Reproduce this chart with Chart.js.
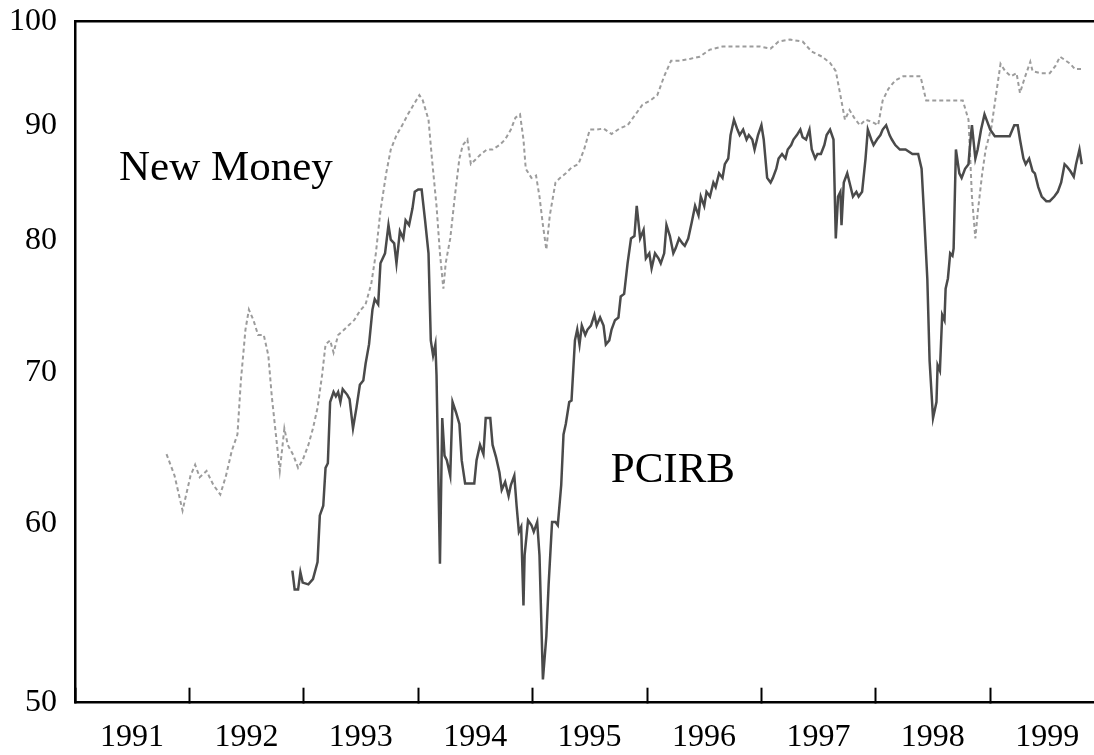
<!DOCTYPE html>
<html>
<head>
<meta charset="utf-8">
<script src="https://cdn.jsdelivr.net/npm/chart.js@4.4.1/dist/chart.umd.min.js"></script>
<style>
  html, body { margin: 0; padding: 0; background: #fff; }
  #wrap { width: 1094px; height: 755px; position: relative; }
</style>
</head>
<body>
<div id="wrap"><canvas id="chart"></canvas></div>
<script>
// Weekly-ish readings, x in decimal years
const pcYears = [1992.90,1992.92,1992.95,1992.97,1992.99,1993.04,1993.08,1993.12,1993.14,1993.17,1993.19,1993.21,1993.23,1993.26,1993.28,1993.30,1993.32,1993.34,1993.38,1993.40,1993.43,1993.46,1993.49,1993.52,1993.54,1993.57,1993.60,1993.62,1993.65,1993.67,1993.71,1993.74,1993.76,1993.79,1993.81,1993.84,1993.87,1993.89,1993.92,1993.95,1993.97,1994.00,1994.03,1994.06,1994.09,1994.11,1994.13,1994.15,1994.16,1994.19,1994.21,1994.23,1994.25,1994.28,1994.30,1994.33,1994.36,1994.38,1994.41,1994.45,1994.49,1994.51,1994.54,1994.57,1994.59,1994.63,1994.65,1994.68,1994.71,1994.73,1994.76,1994.79,1994.81,1994.84,1994.86,1994.88,1994.90,1994.92,1994.93,1994.96,1994.99,1995.01,1995.04,1995.06,1995.09,1995.12,1995.14,1995.17,1995.20,1995.22,1995.25,1995.27,1995.29,1995.32,1995.34,1995.37,1995.39,1995.41,1995.43,1995.46,1995.48,1995.51,1995.54,1995.56,1995.59,1995.62,1995.64,1995.67,1995.69,1995.72,1995.75,1995.77,1995.80,1995.83,1995.86,1995.89,1995.91,1995.94,1995.97,1995.99,1996.02,1996.04,1996.07,1996.10,1996.12,1996.15,1996.17,1996.20,1996.23,1996.25,1996.28,1996.31,1996.33,1996.36,1996.39,1996.42,1996.45,1996.47,1996.50,1996.52,1996.55,1996.58,1996.60,1996.63,1996.66,1996.68,1996.71,1996.73,1996.76,1996.79,1996.81,1996.84,1996.87,1996.89,1996.92,1996.94,1996.97,1997.00,1997.02,1997.05,1997.08,1997.10,1997.13,1997.15,1997.18,1997.21,1997.23,1997.26,1997.28,1997.31,1997.34,1997.36,1997.39,1997.42,1997.44,1997.47,1997.49,1997.52,1997.55,1997.57,1997.60,1997.63,1997.65,1997.67,1997.69,1997.70,1997.72,1997.75,1997.77,1997.80,1997.83,1997.85,1997.88,1997.91,1997.93,1997.96,1997.98,1998.01,1998.04,1998.06,1998.09,1998.12,1998.14,1998.17,1998.21,1998.26,1998.32,1998.37,1998.40,1998.42,1998.45,1998.47,1998.50,1998.53,1998.54,1998.56,1998.58,1998.60,1998.61,1998.63,1998.65,1998.67,1998.68,1998.70,1998.73,1998.75,1998.78,1998.81,1998.82,1998.84,1998.87,1998.89,1998.92,1998.95,1999.00,1999.04,1999.09,1999.13,1999.17,1999.21,1999.24,1999.26,1999.29,1999.31,1999.34,1999.37,1999.39,1999.42,1999.45,1999.49,1999.52,1999.56,1999.59,1999.62,1999.65,1999.67,1999.70,1999.73,1999.75,1999.78,1999.80];
const pcValues = [57.2,56.1,56.1,57.1,56.5,56.4,56.7,57.7,60.5,61.1,63.5,63.8,67.9,68.6,68.3,68.6,67.9,68.8,68.4,68.1,66.1,67.5,69.1,69.4,70.6,72.0,74.6,75.4,75.0,78.2,79.0,81.3,80.1,79.8,78.2,80.8,80.2,81.7,81.3,82.7,84.1,84.3,84.3,81.7,79.0,72.3,71.2,72.0,69.8,57.6,66.8,64.3,64.0,63.0,67.9,67.2,66.4,64.0,62.5,62.5,62.5,64.0,65.0,64.4,66.8,66.8,65.0,64.2,63.2,62.1,62.6,61.7,62.4,63.0,61.1,59.5,59.8,55.2,58.1,60.2,59.9,59.5,60.1,58.1,51.2,53.5,56.4,60.1,60.1,59.9,62.4,65.7,66.4,67.9,68.0,72.3,73.1,72.0,73.4,72.7,73.1,73.4,74.2,73.4,74.0,73.4,72.0,72.3,73.1,73.8,74.0,75.6,75.8,78.2,80.2,80.4,82.9,80.2,80.9,78.6,79.0,77.8,79.0,78.6,78.2,79.0,81.3,80.4,79.0,79.4,80.2,79.8,79.6,80.2,81.5,82.9,82.1,83.7,82.9,84.1,83.7,84.9,84.5,85.7,85.3,86.5,87.0,89.1,90.5,89.6,89.1,89.6,88.7,89.1,88.7,87.8,89.1,90.0,88.7,85.3,84.9,85.3,86.1,87.0,87.4,87.0,87.8,88.2,88.7,89.1,89.6,88.9,88.7,89.6,87.8,87.0,87.4,87.4,88.2,89.1,89.6,88.7,80.2,83.7,84.1,81.3,84.9,85.7,84.9,83.7,84.1,83.7,84.1,87.0,89.6,88.7,88.2,88.7,89.1,89.6,90.0,89.1,88.7,88.2,87.8,87.8,87.4,87.4,86.1,82.5,77.0,70.8,66.8,67.9,70.5,70.1,74.2,73.8,76.2,77.0,79.0,78.8,79.4,87.8,85.7,85.3,86.1,86.5,87.8,90.0,87.0,87.8,89.6,91.0,89.6,89.0,89.0,89.0,89.0,90.0,90.0,88.7,87.0,86.5,87.0,85.9,85.7,84.5,83.7,83.3,83.3,83.7,84.1,84.9,86.5,86.3,85.9,85.4,86.5,87.8,86.5];

const nmYears = [1991.80,1991.87,1991.94,1992.01,1992.05,1992.09,1992.15,1992.21,1992.27,1992.32,1992.37,1992.42,1992.45,1992.49,1992.52,1992.56,1992.60,1992.65,1992.69,1992.72,1992.76,1992.79,1992.83,1992.86,1992.91,1992.95,1992.99,1993.04,1993.08,1993.12,1993.16,1993.19,1993.23,1993.26,1993.30,1993.34,1993.39,1993.44,1993.49,1993.54,1993.59,1993.63,1993.67,1993.72,1993.76,1993.81,1993.86,1993.91,1993.96,1994.01,1994.04,1994.09,1994.12,1994.16,1994.19,1994.22,1994.24,1994.28,1994.32,1994.36,1994.39,1994.43,1994.46,1994.51,1994.55,1994.60,1994.65,1994.71,1994.76,1994.81,1994.85,1994.89,1994.92,1994.94,1994.99,1995.03,1995.06,1995.09,1995.12,1995.15,1995.20,1995.24,1995.29,1995.34,1995.40,1995.45,1995.50,1995.56,1995.62,1995.69,1995.76,1995.83,1995.90,1995.96,1996.03,1996.09,1996.15,1996.21,1996.29,1996.38,1996.46,1996.55,1996.66,1996.77,1996.88,1996.99,1997.08,1997.15,1997.25,1997.36,1997.44,1997.53,1997.60,1997.65,1997.69,1997.73,1997.77,1997.81,1997.86,1997.91,1997.97,1998.02,1998.06,1998.11,1998.17,1998.24,1998.32,1998.39,1998.44,1998.52,1998.60,1998.69,1998.76,1998.81,1998.84,1998.87,1998.89,1998.93,1998.96,1999.01,1999.05,1999.09,1999.13,1999.18,1999.23,1999.26,1999.30,1999.35,1999.37,1999.44,1999.52,1999.57,1999.61,1999.65,1999.70,1999.74,1999.80];
const nmValues = [64.4,63.0,60.8,63.0,63.7,62.9,63.3,62.4,61.8,63.0,64.6,65.7,69.4,73.1,74.6,73.8,72.7,72.7,71.2,68.3,65.4,63.3,66.1,65.0,64.3,63.5,64.0,65.0,66.1,67.5,69.8,72.0,72.3,71.4,72.7,73.0,73.4,73.8,74.5,75.0,76.6,79.0,82.5,85.7,87.8,89.1,90.0,91.0,91.9,92.8,92.3,90.5,87.0,82.9,79.0,76.2,78.2,80.2,83.7,87.0,88.2,88.7,86.5,87.0,87.4,87.8,87.8,88.2,88.7,89.6,90.7,91.0,88.7,86.1,85.3,85.5,83.7,81.3,79.3,82.1,84.9,85.3,85.7,86.2,86.5,87.8,89.6,89.6,89.7,89.2,89.7,90.0,91.0,91.9,92.3,92.8,94.6,96.1,96.1,96.3,96.5,97.2,97.5,97.5,97.5,97.5,97.3,98.0,98.2,98.0,97.0,96.5,95.9,95.1,92.8,90.5,91.4,90.7,90.0,90.5,90.3,90.0,92.3,93.4,94.2,94.6,94.6,94.6,92.3,92.3,92.3,92.3,92.3,90.5,83.7,80.2,82.3,85.7,87.8,89.8,92.8,95.8,95.1,94.6,94.9,93.0,94.4,96.0,95.1,94.9,94.9,95.6,96.5,96.2,95.8,95.3,95.3];

const yTicks = [50, 60, 70, 80, 90, 100];
const yearTicks = [1991, 1992, 1993, 1994, 1995, 1996, 1997, 1998, 1999];
const xMin = 1991;
const xMax = 1999.907;

// series names and where their captions sit (year, value)
const seriesNames = ['PCIRB', 'New Money'];
const captionAt = [[1995.683, 62.6], [1991.385, 85.1]];

const serif = '"Liberation Serif", "Times New Roman", serif';

const toPoints = (xs, ys) => xs.map((x, i) => ({ x: x, y: ys[i] }));

// keep the axes from asking for extra room around the plot
function noPad(s) {
    s.paddingTop = 0;
    s.paddingBottom = 0;
    s.paddingLeft = 0;
    s.paddingRight = 0;
}

// captions written next to the lines
const captionPlugin = {
    id: 'captions',
    afterDatasetsDraw(chart) {
        const { ctx, scales } = chart;
        ctx.save();
        ctx.font = '43px ' + serif;
        ctx.fillStyle = '#000';
        ctx.textBaseline = 'alphabetic';
        ctx.textAlign = 'left';
        seriesNames.forEach((name, i) => {
            const px = scales.x.getPixelForValue(captionAt[i][0]);
            const py = scales.y.getPixelForValue(captionAt[i][1]);
            ctx.fillText(name, px, py);
        });
        ctx.restore();
    }
};

const ctx = document.getElementById('chart');
new Chart(ctx, {
    type: 'line',
    data: {
        datasets: [
            {
                label: seriesNames[0],
                data: toPoints(pcYears, pcValues),
                borderColor: '#4a4a4a',
                borderWidth: 2.5,
                pointRadius: 0,
                tension: 0
            },
            {
                label: seriesNames[1],
                data: toPoints(nmYears, nmValues),
                borderColor: '#9c9c9c',
                borderWidth: 2,
                borderDash: [4, 3],
                pointRadius: 0,
                tension: 0
            }
        ]
    },
    options: {
        responsive: true,
        maintainAspectRatio: false,
        animation: false,
        layout: { padding: { top: 21.7, right: 0, left: 0, bottom: 0 } },
        plugins: {
            legend: { display: false },
            tooltip: { enabled: false }
        },
        scales: {
            x: {
                type: 'linear',
                min: xMin,
                max: xMax,
                afterBuildTicks: s => { s.ticks = yearTicks.map(v => ({ value: v })); },
                afterFit: s => { s.height = 52.3; noPad(s); },
                grid: {
                    display: true,
                    drawOnChartArea: false,
                    drawTicks: true,
                    tickLength: -15,
                    tickWidth: 2,
                    color: '#000'
                },
                border: { display: true, color: '#000', width: 2.5 },
                ticks: {
                    color: '#000',
                    font: { family: serif, size: 32 },
                    padding: 31,
                    labelOffset: 57,
                    maxRotation: 0,
                    autoSkip: false,
                    callback: v => String(v)
                }
            },
            xTop: {
                type: 'linear',
                position: 'top',
                min: xMin,
                max: xMax,
                afterFit: s => { s.height = 0; noPad(s); },
                grid: { display: false, drawTicks: false },
                border: { display: true, color: '#000', width: 2.5 },
                ticks: { display: false }
            },
            y: {
                type: 'logarithmic',
                min: 50,
                max: 100,
                afterBuildTicks: s => { s.ticks = yTicks.map(v => ({ value: v })); },
                afterFit: s => { s.width = 75; noPad(s); },
                grid: { display: false, drawTicks: false },
                border: { display: true, color: '#000', width: 2.5 },
                ticks: {
                    color: '#000',
                    font: { family: serif, size: 32 },
                    padding: 18,
                    callback: v => String(v)
                }
            }
        }
    },
    plugins: [captionPlugin]
});
</script>
</body>
</html>
